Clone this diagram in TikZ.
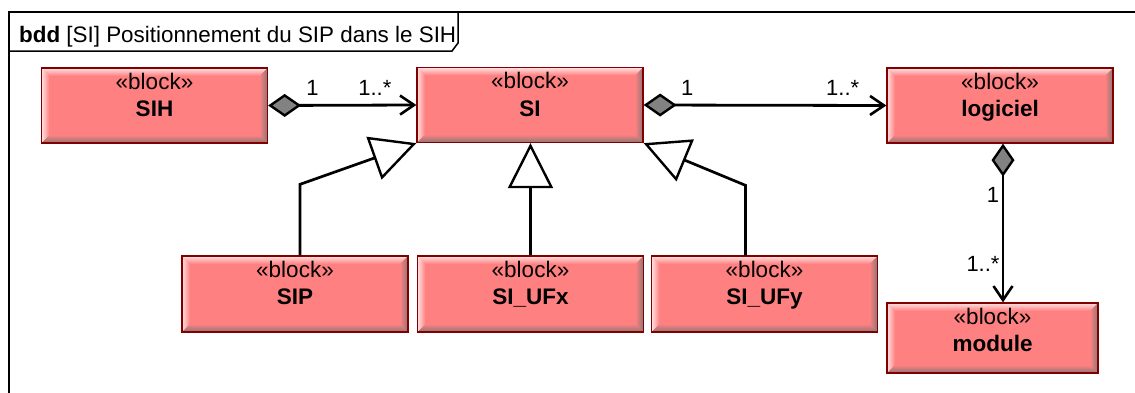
\documentclass[tikz,border=0pt]{standalone}
\usepackage{fontspec}
\setmainfont{Liberation Sans}
\usetikzlibrary{arrows.meta,calc}
\definecolor{blockred}{RGB}{255,128,128}
\definecolor{borderred}{RGB}{128,0,0}
\definecolor{bevgray}{RGB}{138,118,118}
\definecolor{bevlight}{RGB}{255,225,225}
\definecolor{diagray}{RGB}{130,130,130}
\tikzset{
  x=1pt, y=1pt,
  blocktext/.style={font=\fontsize{22.5}{27.5}\selectfont, align=center, anchor=north, inner sep=0pt, yshift=-5.5pt},
  bblock/.style={draw=borderred, line width=1.3pt, fill=blockred, inner sep=0pt,
    minimum width=226pt, minimum height=75pt,
    label={[blocktext]north:{«block»\\\textbf{#1}}},
    path picture={
      \path (path picture bounding box.south west) coordinate (pSW)
            (path picture bounding box.north east) coordinate (pNE)
            (pSW |- pNE) coordinate (pNW)
            (pNE |- pSW) coordinate (pSE);
      \shade[top color=bevlight, bottom color=blockred]
        (pNW) -- (pNE) -- ($(pNE)+(-8,-8)$) -- ($(pNW)+(8,-8)$) -- cycle;
      \shade[left color=bevlight, right color=blockred]
        (pNW) -- ($(pNW)+(8,-8)$) -- ($(pSW)+(8,8)$) -- (pSW) -- cycle;
      \shade[top color=blockred, bottom color=bevgray]
        (pSW) -- ($(pSW)+(8,8)$) -- ($(pSE)+(-8,8)$) -- (pSE) -- cycle;
      \shade[left color=blockred, right color=bevgray]
        (pNE) -- (pSE) -- ($(pSE)+(-8,8)$) -- ($(pNE)+(-8,-8)$) -- cycle;
    }},
  assoc/.style={line width=2.8pt, line cap=butt,
    {Diamond[length=33pt,width=23pt,fill=diagray,line width=2.4pt]}-{Straight Barb[length=14pt,width=19pt,line width=2.6pt]}},
  gener/.style={line width=2.7pt, line join=miter,
    -{Triangle[length=45pt,width=45pt,fill=white,line width=2.4pt]}},
  mult/.style={font=\fontsize{22}{24}\selectfont, inner sep=0pt},
  frameline/.style={line width=1.5pt}
}
\begin{document}
\begin{tikzpicture}
\useasboundingbox (0,0) rectangle (1135,392);
% frame
\draw[frameline] (9,-20) -- (9,380) -- (1160,380);
\draw[frameline] (458,380) -- (458,349) coordinate (tabc) -- (452,341) -- (9,341);
\node[anchor=base west, inner sep=0pt, font=\fontsize{22.4}{24}\selectfont] (title) at (19,349)
  {\textbf{bdd} [SI] Positionnement du SIP dans le SIH};

% blocks
\node[bblock=SIH] (SIH) at (154.5,286.5) {};
\node[bblock=SI] (SI) at (530,287) {};
\node[bblock=logiciel] (logiciel) at (1000,286.5) {};
\node[bblock=SIP, minimum height=76pt] (SIP) at (295,98) {};
\node[bblock=SI\_UFx, minimum height=76pt] (SIUFx) at (530.5,98) {};
\node[bblock=SI\_UFy, minimum height=76pt] (SIUFy) at (764.5,98) {};
\node[bblock=module, minimum width=211pt, minimum height=70pt] (module) at (992.5,54) {};

% associations
\draw[assoc] (SIH.east) -- (SI.west)
  node[mult, pos=0.3, yshift=17pt] (m1a) {1}
  node[mult, pos=0.72, yshift=17pt] (m1b) {1..*};
\draw[assoc] (SI.east) -- (logiciel.west)
  node[mult, pos=0.18, yshift=17pt] (m2a) {1}
  node[mult, pos=0.82, yshift=17pt] (m2b) {1..*};
\draw[assoc] ([xshift=3pt]logiciel.south) -- ([xshift=3pt]logiciel.south |- module.north)
  node[mult, pos=0.325, xshift=-10pt] (m3a) {1}
  node[mult, pos=0.76, xshift=-20pt] (m3b) {1..*};

% generalizations
\draw[gener] ([xshift=5pt]SIP.north) -- ++(0,71) -- (SI.south west);
\draw[gener] (SIUFx.north) -- (SIUFx.north |- SI.south);
\draw[gener] ([xshift=-19pt]SIUFy.north) -- ++(0,70) -- (SI.south east);
\end{tikzpicture}
\end{document}
